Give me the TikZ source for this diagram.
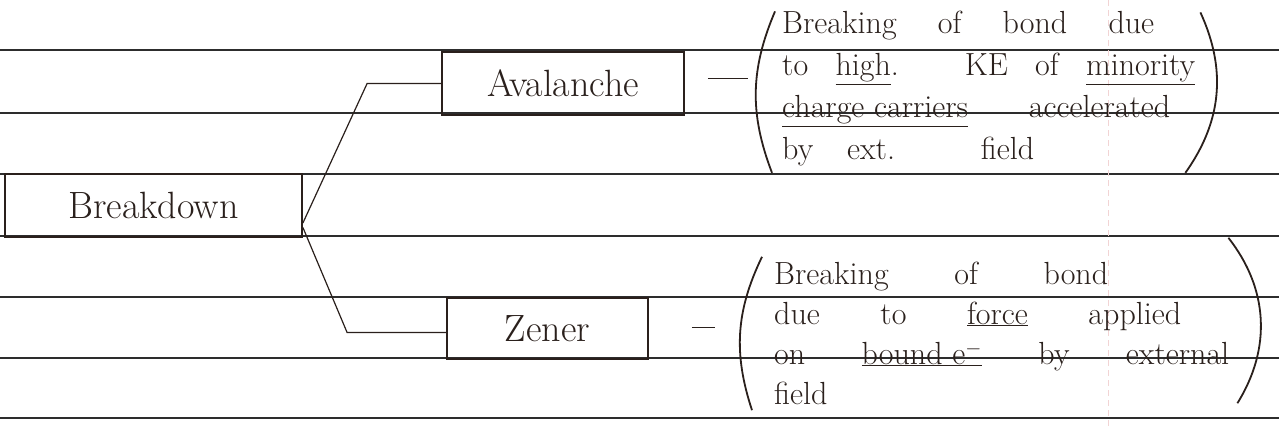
\documentclass[tikz,border=0pt]{standalone}
\usepackage{fontspec}
\usepackage{tikz}
\definecolor{ink}{RGB}{42,32,28}
\definecolor{paperline}{RGB}{45,45,45}
\definecolor{marginpink}{RGB}{242,212,212}

\begin{document}
\begin{tikzpicture}[x=1pt, y=-1pt]
        \tikzstyle{term}=[rectangle, draw=ink, line width=1.8pt, inner sep=0, text=ink, font=\fontsize{38}{40}\selectfont];
        \tikzstyle{note}=[inner sep=0, anchor=base west, text=ink];
        \tikzstyle{link}=[draw=ink, line width=1.2pt];
        \tikzstyle{paren}=[draw=ink, line width=1.8pt];

        \fill [white] (0,0) rectangle (1279,428);
        \useasboundingbox (0,0) rectangle (1279,428);
        \foreach \y in {50,113,174,236,297,358,418}
            \draw [paperline, line width=1.6pt] (0,\y) -- (1279,\y);
        \draw [marginpink, line width=1pt, dash pattern=on 6pt off 4pt] (1108,0) -- (1108,428);

        \node [term, minimum width=297pt, minimum height=63pt] (Breakdown) at (153.5,205.5) {Breakdown};
        \node [term, minimum width=242pt, minimum height=63pt] (Avalanche) at (563,83.5) {Avalanche};
        \node [term, minimum width=201pt, minimum height=61pt] (Zener) at (547.5,328.5) {Zener};

        \draw [link] ([yshift=-17.5pt] Breakdown.east) -- ([xshift=-74pt] Avalanche.west) -- (Avalanche.west);
        \draw [link] ([yshift=-22pt] Breakdown.east) -- ([xshift=-99pt, yshift=-4pt] Zener.west) -- ([yshift=-4pt] Zener.west);

        \draw [link, line width=1.8pt] ([xshift=23pt, yshift=5pt] Avalanche.east) -- ++(40pt,0);
        \draw [link, line width=1.8pt] ([xshift=43pt, yshift=1pt] Zener.east) -- ++(23pt,0);

        \node [note] (AvalancheNote) at (782,34) {\fontsize{32}{42}\selectfont\begin{tabular}[t]{@{}l@{}}
            \makebox[372pt][s]{Breaking of bond due} \\
            \makebox[413pt][s]{to \underline{high}. KE of \underline{minority}} \\
            \makebox[388pt][s]{\underline{charge carriers} accelerated} \\
            \makebox[252pt][s]{by ext. field}
        \end{tabular}};
        \node [note] (ZenerNote) at (774,284) {\fontsize{32}{40}\selectfont\begin{tabular}[t]{@{}l@{}}
            \makebox[334pt][s]{Breaking of bond} \\
            \makebox[407pt][s]{due to \underline{force} applied} \\
            \makebox[455pt][s]{on \underline{bound e$^-$} by external} \\
            field
        \end{tabular}};

        \draw [paren] ([xshift=-7pt, yshift=-7pt] AvalancheNote.north west) to [bend right=22] ([xshift=-10pt] AvalancheNote.south west);
        \draw [paren] ([xshift=5pt, yshift=-8pt] AvalancheNote.north east) to [bend left=30] ([xshift=-10pt] AvalancheNote.south east);
        \draw [paren] ([xshift=-12pt, yshift=-1pt] ZenerNote.north west) to [bend right=22] ([xshift=-22pt, yshift=6pt] ZenerNote.south west);
        \draw [paren] ([xshift=-1pt, yshift=18pt] ZenerNote.north east) to [bend left=35] ([xshift=8pt, yshift=13pt] ZenerNote.south east);
    \end{tikzpicture}
\end{document}
